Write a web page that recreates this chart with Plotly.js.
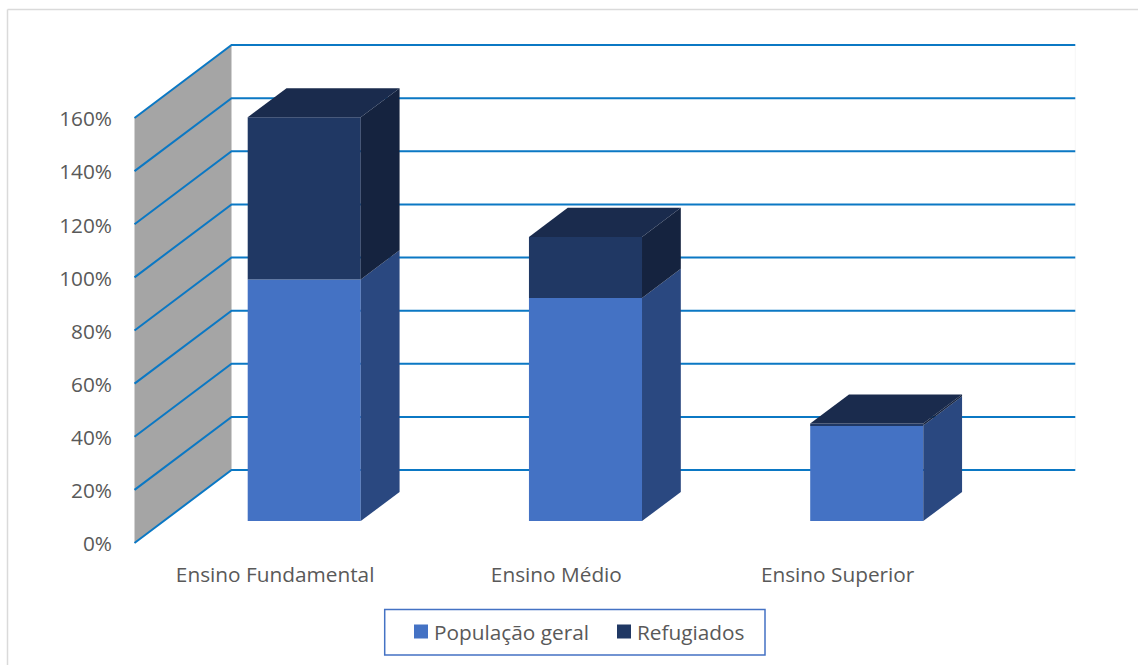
<!DOCTYPE html>
<html lang="pt-BR">
<head>
<meta charset="utf-8">
<script src="https://cdn.plot.ly/plotly-3.0.1.min.js"></script>
<style>html,body{margin:0;padding:0;background:#fff;overflow:hidden}</style>
</head>
<body>
<div id="chart" style="width:1138px;height:665px"></div>
<script>
// Escolaridade: população geral e refugiados (percentuais empilhados)
const categorias = ["Ensino Fundamental", "Ensino Médio", "Ensino Superior"];
const populacaoGeral = [91, 84, 36];
const refugiados = [61, 23, 0.7];
const eixoValores = [0, 20, 40, 60, 80, 100, 120, 140, 160];

// Oblique projection: depth of the floor in axis units, and where a bar sits in it
const depthX = 0.345, depthY = 27.48;
const barNear = 0.30, barFar = 0.70;
const barWidth = 0.402;
const wallX = -0.5;
const endX = wallX + 3 + depthX;

const C = {
  blue: "#4472C4", blueSide: "#2A4880",
  navy: "#203864", navySide: "#15233F", navyTop: "#1A2B4D",
  wall: "#A5A5A5", grid: "#0B78C4", text: "#595959",
  frame: "#DADADA", legendLine: "#4472C4"
};

const W = 1138, H = 665;
const M = {l: 130, r: 58, t: 40, b: 117};
const plotW = W - M.l - M.r, plotH = H - M.t - M.b;
const px = x => (x - M.l) / plotW;
const py = y => (H - M.b - y) / plotH;

const fontFamily = '"Open Sans", "Noto Sans", sans-serif';
const fontSize = 20.8;

// Front faces are real stacked bars lifted to the bar's depth plane
const xFront = categorias.map((_, i) => i + barNear * depthX);
const base0 = barNear * depthY;
const frontBars = [
  {name: "População geral", y: populacaoGeral, base: populacaoGeral.map(() => base0), color: C.blue},
  {name: "Refugiados", y: refugiados, base: populacaoGeral.map(v => base0 + v), color: C.navy}
].map(s => ({
  type: "bar", name: s.name, x: xFront, y: s.y, base: s.base, width: barWidth,
  marker: {color: s.color, line: {width: 0}}, hoverinfo: "y+name"
}));

// Side and top faces derived from the same values
const dX = (barFar - barNear) * depthX, dY = (barFar - barNear) * depthY;
function face(xs, ys, color) {
  return {type: "scatter", mode: "lines", x: xs, y: ys, fill: "toself", fillcolor: color,
          line: {width: 0, color: color}, hoverinfo: "skip", showlegend: false};
}
const faces = [];
categorias.forEach((_, i) => {
  const r = xFront[i] + barWidth / 2, l = xFront[i] - barWidth / 2;
  const y0 = base0, y1 = y0 + populacaoGeral[i], y2 = y1 + refugiados[i];
  faces.push(face([r, r + dX, r + dX, r, r], [y0, y0 + dY, y1 + dY, y1, y0], C.blueSide));
  faces.push(face([r, r + dX, r + dX, r, r], [y1, y1 + dY, y2 + dY, y2, y1], C.navySide));
  faces.push(face([l, l + dX, r + dX, r, l], [y2, y2 + dY, y2 + dY, y2, y2], C.navyTop));
});

// Side wall and the gridlines folding around it
const shapes = [{
  type: "path", xref: "x", yref: "y", layer: "below", line: {width: 0}, fillcolor: C.wall,
  path: `M${wallX},0 L${wallX + depthX},${depthY} L${wallX + depthX},${160 + depthY} L${wallX},160 Z`
}, {
  type: "line", xref: "x", yref: "paper", layer: "below", line: {color: "#F6F6F6", width: 1},
  x0: endX, x1: endX, y0: py(470), y1: py(45)
}];
eixoValores.forEach(v => {
  shapes.push({
    type: "path", xref: "x", yref: "y", layer: "below", line: {color: C.grid, width: 2},
    path: `M${wallX},${v} L${wallX + depthX},${v + depthY} L${endX},${v + depthY}`
  });
});

// Outer frame and legend box
shapes.push(
  {type: "line", xref: "paper", yref: "paper", x0: px(7.5), x1: px(7.5), y0: py(9.5), y1: py(665), line: {color: C.frame, width: 1.5}},
  {type: "line", xref: "paper", yref: "paper", x0: px(7.5), x1: px(1138), y0: py(9.5), y1: py(9.5), line: {color: C.frame, width: 1.5}},
  {type: "rect", xref: "paper", yref: "paper", x0: px(384.7), x1: px(765), y0: py(609.5), y1: py(655), line: {color: C.legendLine, width: 1.5}, fillcolor: "rgba(0,0,0,0)"}
);

const layout = {
  width: W, height: H,
  margin: M,
  paper_bgcolor: "#fff", plot_bgcolor: "#fff",
  font: {family: fontFamily, size: fontSize, color: C.text},
  barmode: "overlay",
  showlegend: true,
  legend: {
    orientation: "h", xref: "container", yref: "container",
    x: 401 / W, y: 1 - 632 / H, xanchor: "left", yanchor: "middle",
    bgcolor: "rgba(0,0,0,0)", borderwidth: 0,
    entrywidth: 158, entrywidthmode: "pixels",
    font: {family: fontFamily, size: fontSize, color: C.text},
    itemclick: false, itemdoubleclick: false
  },
  xaxis: {
    range: [-0.516, 2.8618], fixedrange: true, showgrid: false, zeroline: false, showline: false,
    tickmode: "array", tickvals: categorias.map((_, i) => i), ticktext: categorias,
    ticks: "", ticklabelstandoff: 12
  },
  yaxis: {
    range: [-1.882, 189.365], fixedrange: true, showgrid: false, zeroline: false, showline: false,
    tickmode: "array", tickvals: eixoValores, ticktext: eixoValores.map(v => v + "%"),
    ticks: "", ticklabelstandoff: 17, ticklabelshift: 1
  },
  shapes: shapes
};

Plotly.newPlot("chart", frontBars.concat(faces), layout, {displayModeBar: false}).then(() => {
  // Tighter swatches: larger square, label pulled closer to it
  document.querySelectorAll(".legend .traces").forEach(t => {
    const swatch = t.querySelector(".legendpoints path");
    if (swatch) swatch.setAttribute("d", "M7,7H-7V-7H7Z");
    const label = t.querySelector(".legendtext");
    if (label) label.setAttribute("x", parseFloat(label.getAttribute("x")) - 7);
  });
});
</script>
</body>
</html>
